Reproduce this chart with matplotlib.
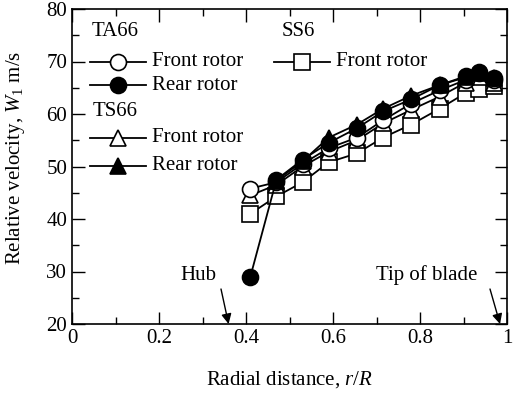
import matplotlib
matplotlib.use("Agg")
import matplotlib.pyplot as plt
from matplotlib.lines import Line2D
from matplotlib.ticker import MultipleLocator

plt.rcParams["font.family"] = "Liberation Serif"
plt.rcParams["mathtext.fontset"] = "custom"
plt.rcParams["mathtext.rm"] = "Liberation Serif"
plt.rcParams["mathtext.it"] = "Liberation Serif:italic"

# radial positions r/R
r = [0.41, 0.47, 0.53, 0.59, 0.655, 0.715, 0.78, 0.845, 0.905, 0.935, 0.97]
r_ts_rear = [0.47, 0.53, 0.59, 0.655, 0.715, 0.78, 0.845, 0.905, 0.935, 0.97]

# relative velocity W1 (m/s)
ta66_front = [45.8, 47.0, 50.5, 53.5, 55.5, 58.8, 62.0, 64.5, 66.5, 67.8, 66.5]
ta66_rear = [29.0, 47.5, 51.3, 54.5, 57.3, 60.5, 62.8, 65.5, 67.2, 68.0, 66.8]
ts66_front = [44.5, 46.5, 50.0, 52.8, 55.0, 58.2, 60.8, 63.3, 66.0, 67.0, 66.0]
ts66_rear = [47.3, 51.0, 55.5, 58.0, 61.0, 63.5, 65.5, 67.0, 67.8, 66.8]
ss6_front = [41.0, 44.3, 47.0, 50.8, 52.5, 55.5, 58.0, 61.0, 64.0, 64.8, 65.3]

fs = 15
W, H = 515, 405
left, right, top, bottom = 72, 507, 9, 324
fig = plt.figure(figsize=(W / 100, H / 100), dpi=100)
ax = fig.add_axes([left / W, 1 - bottom / H, (right - left) / W, (bottom - top) / H])

ms = 11.5
style = dict(color="black", lw=1.3, markeredgecolor="black", markeredgewidth=1.2)
ax.plot(r, ss6_front, marker="s", mfc="white", ms=ms, **style, zorder=2)
ax.plot(r, ts66_front, marker="^", mfc="white", ms=ms, **style, zorder=3)
ax.plot(r, ta66_front, marker="o", mfc="white", ms=ms, **style, zorder=3)
ax.plot(r_ts_rear, ts66_rear, marker="^", mfc="black", ms=ms, **style, zorder=4)
ax.plot(r, ta66_rear, marker="o", mfc="black", ms=ms, **style, zorder=4)

ax.set_xlim(0, 1)
ax.set_ylim(20, 80)
ax.xaxis.set_major_locator(MultipleLocator(0.2))
ax.xaxis.set_minor_locator(MultipleLocator(0.1))
ax.yaxis.set_major_locator(MultipleLocator(10))
ax.yaxis.set_minor_locator(MultipleLocator(5))
ax.set_xticks([0, 0.2, 0.4, 0.6, 0.8, 1.0])
ax.set_xticklabels(["0", "0.2", "0.4", "0.6", "0.8", "1"])
ax.tick_params(which="both", direction="in", top=True, right=True, labelsize=fs, width=1)
ax.tick_params(which="major", length=9)
ax.tick_params(which="minor", length=5)
for s in ax.spines.values():
    s.set_linewidth(1.2)

ax.set_xlabel("Radial distance, $r/R$", fontsize=fs, labelpad=15)
fig.text(16 / W, 1 - 158 / H, "Relative velocity, $W_1$ m/s", fontsize=fs,
         rotation=90, ha="center", va="center")


def px(x, y):
    return ((x - left) / (right - left), (bottom - y) / (bottom - top))


# legend drawn by hand
tf = ax.transAxes
legend_items = [
    ("TA66", None, None, 92, 32),
    ("Front rotor", "o", "white", 118, 62),
    ("Rear rotor", "o", "black", 118, 85),
    ("TS66", None, None, 93, 112),
    ("Front rotor", "^", "white", 118, 138),
    ("Rear rotor", "^", "black", 118, 166),
    ("SS6", None, None, 282, 32),
    ("Front rotor", "s", "white", 302, 62),
]
for label, mk, fc, x, y in legend_items:
    if mk is None:
        ax.text(*px(x, y), label, transform=tf, fontsize=fs, va="center", ha="left")
        continue
    x0, y0 = px(x - 28, y)
    x1, _ = px(x + 28, y)
    xm, _ = px(x, y)
    ax.add_line(Line2D([x0, x1], [y0, y0], transform=tf, color="black", lw=1.3))
    ax.add_line(Line2D([xm], [y0], transform=tf, marker=mk, ms=ms, mfc=fc,
                       mec="black", mew=1.2, color="black"))
    ax.text(*px(x + 34, y), label, transform=tf, fontsize=fs, va="center", ha="left")

# hub / tip markers
ax.text(*px(198, 275), "Hub", transform=tf, fontsize=fs, ha="center", va="center")
ax.text(*px(427, 275), "Tip of blade", transform=tf, fontsize=fs, ha="center", va="center")
arrow = dict(arrowstyle="-|>", color="black", lw=1, shrinkA=0, shrinkB=0,
             mutation_scale=15)
ax.annotate("", xy=(0.36, 20), xytext=px(221, 289), textcoords=tf, arrowprops=arrow)
ax.annotate("", xy=(0.984, 20), xytext=px(490, 289), textcoords=tf, arrowprops=arrow)

fig.savefig("out.png", dpi=100)
